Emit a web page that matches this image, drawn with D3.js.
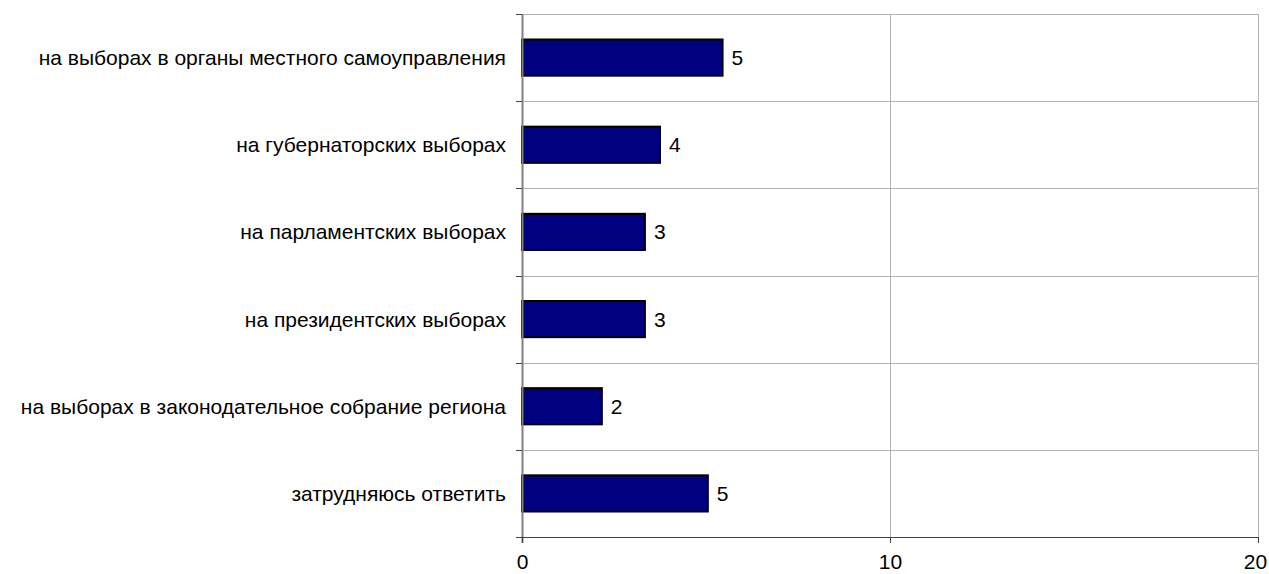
<!DOCTYPE html>
<html><head><meta charset="utf-8">
<script src="https://cdn.jsdelivr.net/npm/d3@7"></script>
<style>body{margin:0;background:#fff}svg{display:block;font-family:"Liberation Sans",Arial,sans-serif}</style>
</head><body>
<svg id="c" width="1269" height="574"></svg>
<script>
const categories = [
  "на выборах в органы местного самоуправления",
  "на губернаторских выборах",
  "на парламентских выборах",
  "на президентских выборах",
  "на выборах в законодательное собрание региона",
  "затрудняюсь ответить"
];
const values = [5.45, 3.75, 3.34, 3.34, 2.17, 5.05];
const xTicks = [0, 10, 20];

const W = 1269, H = 574;
const FS = 21;
const m = {top: 14, right: 11, bottom: 37, left: 522};
const svg = d3.select("#c");
const x = d3.scaleLinear().domain([0, 20]).range([m.left, W - m.right]);
const y = d3.scaleBand().domain(categories).range([m.top, H - m.bottom]).paddingInner(0.585).paddingOuter(0.2925);
const y0 = d3.scaleBand().domain(categories).range([m.top, H - m.bottom]);

// gridlines horizontal at band boundaries
const bounds = categories.map(c => y0(c)).concat([H - m.bottom]);
svg.append("g").selectAll("line").data(bounds.slice(0, -1)).join("line")
  .attr("x1", m.left).attr("x2", W - m.right)
  .attr("y1", d => Math.round(d) + 0.5).attr("y2", d => Math.round(d) + 0.5)
  .attr("stroke", "#b4b4b4").attr("stroke-width", 1);
// vertical gridlines
svg.append("g").selectAll("line").data(xTicks.slice(1)).join("line")
  .attr("x1", d => Math.round(x(d)) + 0.5).attr("x2", d => Math.round(x(d)) + 0.5)
  .attr("y1", m.top).attr("y2", H - m.bottom)
  .attr("stroke", "#b4b4b4").attr("stroke-width", 1);

// bars
svg.append("g").selectAll("rect").data(values).join("rect")
  .attr("x", x(0))
  .attr("y", (d, i) => y(categories[i]))
  .attr("width", d => x(d) - x(0))
  .attr("height", y.bandwidth())
  .attr("fill", "#000080").attr("stroke", "#000").attr("stroke-width", 2);

// value labels
svg.append("g").selectAll("text").data(values).join("text")
  .attr("x", d => x(d) + 9)
  .attr("y", (d, i) => y(categories[i]) + y.bandwidth() / 2)
  .attr("dy", "0.36em")
  .attr("font-size", FS).attr("fill", "#000")
  .text(d => d3.format(".0f")(d));

// left axis
const yAxisG = svg.append("g");
yAxisG.append("line").attr("x1", m.left + 0.5).attr("x2", m.left + 0.5)
  .attr("y1", m.top).attr("y2", H - m.bottom + 6).attr("stroke", "#808080").attr("stroke-width", 2);
yAxisG.selectAll("line.t").data(bounds).join("line").attr("class", "t")
  .attr("x1", m.left - 6).attr("x2", m.left)
  .attr("y1", d => Math.round(d) + 0.5).attr("y2", d => Math.round(d) + 0.5)
  .attr("stroke", "#404040").attr("stroke-width", 1);
yAxisG.selectAll("text").data(categories).join("text")
  .attr("x", m.left - 16)
  .attr("y", d => y0(d) + y0.bandwidth() / 2)
  .attr("dy", "0.36em").attr("text-anchor", "end")
  .attr("font-size", FS).attr("fill", "#000")
  .text(d => d);

// bottom axis
const xAxis = d3.axisBottom(x).tickValues(xTicks).tickSize(6).tickPadding(11).tickFormat(d3.format("d"));
const gx = svg.append("g").attr("transform", `translate(0,${H - m.bottom})`).call(xAxis);
gx.select(".domain").attr("stroke", "#404040").attr("stroke-width", 1);
gx.selectAll(".tick line").attr("stroke", "#404040");
gx.selectAll(".tick text").attr("font-size", FS).attr("fill", "#000").attr("font-family", "Liberation Sans, Arial, sans-serif")
  .attr("dx", d => d === 20 ? -3 : 0);
</script>
</body></html>
